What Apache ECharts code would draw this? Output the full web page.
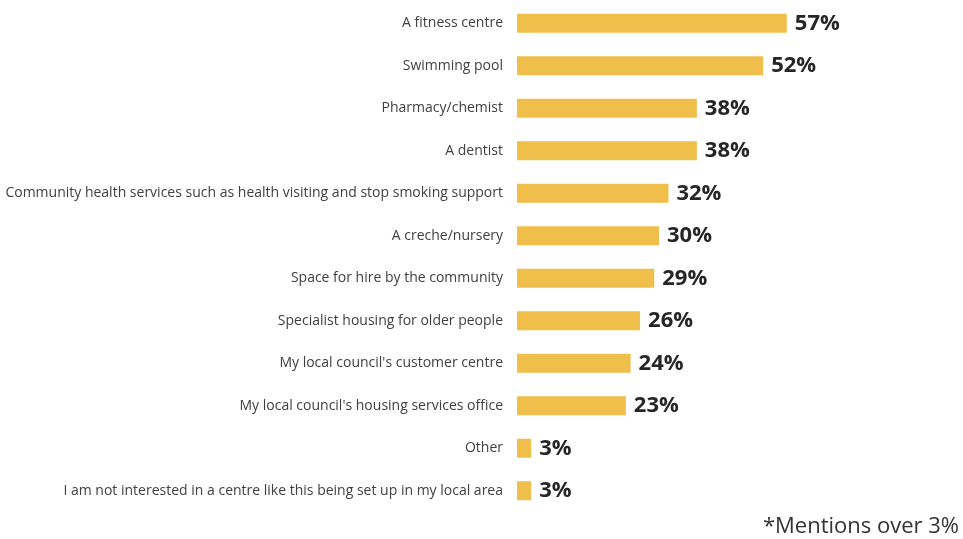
<!DOCTYPE html>
<html><head><meta charset="utf-8">
<script src="https://cdn.jsdelivr.net/npm/echarts@6/dist/echarts.min.js"></script>
<style>html,body{margin:0;padding:0;background:#fff}#c{width:963px;height:539px}</style>
</head><body><div id="c"></div>
<script>
const categories = [
  "A fitness centre",
  "Swimming pool",
  "Pharmacy/chemist",
  "A dentist",
  "Community health services such as health visiting and stop smoking support",
  "A creche/nursery",
  "Space for hire by the community",
  "Specialist housing for older people",
  "My local council's customer centre",
  "My local council's housing services office",
  "Other",
  "I am not interested in a centre like this being set up in my local area"
];
const values = [57, 52, 38, 38, 32, 30, 29, 26, 24, 23, 3, 3];
const footnote = "*Mentions over 3%";

const chart = echarts.init(document.getElementById('c'), null, {renderer: 'canvas'});
chart.setOption({
  animation: false,
  grid: {left: 517, top: 2, width: 426, height: 510},
  xAxis: {type: 'value', min: 0, max: 90, show: false},
  yAxis: {
    type: 'category', inverse: true, data: categories,
    axisLine: {show: false}, axisTick: {show: false},
    axisLabel: {margin: 14, color: '#404040', fontSize: 14, fontFamily: 'Open Sans'}
  },
  series: [{
    type: 'bar', data: values, barWidth: 19,
    itemStyle: {color: '#F0BE4A'},
    label: {show: true, position: 'right', distance: 8, formatter: '{c}%',
      color: '#262626', fontSize: 22, fontWeight: 'bold', fontFamily: 'Open Sans'}
  }],
  graphic: [{
    type: 'text', right: 4, bottom: 1,
    style: {text: footnote, fontSize: 22, fill: '#333', fontFamily: 'Open Sans'}
  }]
});
</script></body></html>
